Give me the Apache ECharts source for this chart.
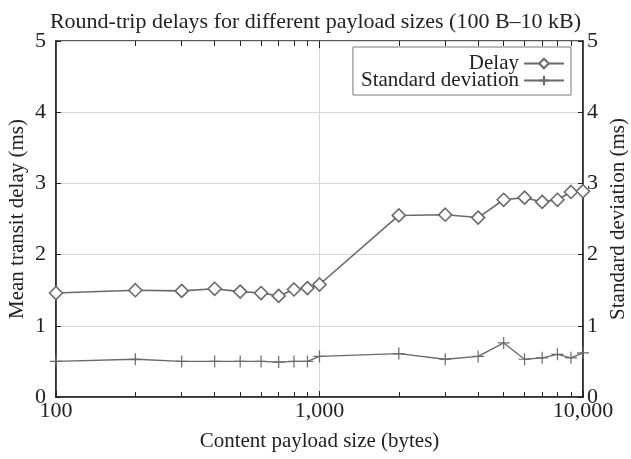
<!DOCTYPE html>
<html><head><meta charset="utf-8">
<script src="https://cdn.jsdelivr.net/npm/echarts@6/dist/echarts.min.js"></script>
<style>html,body{margin:0;padding:0;background:#fff}#c{width:631px;height:459px}</style>
</head><body><div id="c"></div>
<script>
var sizes = [100,200,300,400,500,600,700,800,900,1000,2000,3000,4000,5000,6000,7000,8000,9000,10000];
var delay = [1.46,1.50,1.49,1.52,1.48,1.46,1.42,1.51,1.53,1.58,2.55,2.56,2.52,2.77,2.80,2.74,2.77,2.88,2.89];
var stddev = [0.50,0.53,0.50,0.50,0.50,0.50,0.49,0.50,0.50,0.57,0.61,0.53,0.57,0.76,0.53,0.55,0.60,0.55,0.62];
var minorTicks = [200,300,400,500,600,700,800,900,2000,3000,4000,5000,6000,7000,8000,9000];
var yTicks = [0,1,2,3,4,5];

var FONT = 'Liberation Serif';
var C = '#6a6a6a';
function fmt(v){ return String(v).replace(/\B(?=(\d{3})+(?!\d))/g, ','); }

var tickLines = [];
minorTicks.forEach(function(v){
  tickLines.push([{coord:[v,0]},{coord:[v,0.07]}]);
  tickLines.push([{coord:[v,5]},{coord:[v,4.93]}]);
});
tickLines.push([{coord:[1000,5]},{coord:[1000,4.9]}]);

var chart = echarts.init(document.getElementById('c'), null, {renderer:'canvas'});
chart.setOption({
  animation:false,
  textStyle:{fontFamily:FONT, color:'#222'},
  title:{text:'Round-trip delays for different payload sizes (100 B\u201310 kB)', left:'center', top:6,
    textStyle:{fontFamily:FONT, fontSize:22, fontWeight:'normal', color:'#222'}},
  grid:{left:56, right:48, top:41, bottom:62, show:true, borderColor:'#222', borderWidth:1.5, outerBoundsMode:'none', containLabel:false},
  legend:{orient:'vertical', right:60, top:47, align:'right', itemGap:-4, itemWidth:40, itemHeight:12,
    padding:[6,6,4,8], borderColor:'#777', borderWidth:1,
    textStyle:{fontFamily:FONT, fontSize:21, color:'#222'},
    data:['Delay','Standard deviation']},
  xAxis:{type:'log', logBase:10, min:100, max:10000,
    name:'Content payload size (bytes)', nameLocation:'middle', nameGap:34, nameMoveOverlap:false,
    nameTextStyle:{fontFamily:FONT, fontSize:21, color:'#222'},
    axisLine:{lineStyle:{color:'#222', width:1.5}},
    axisTick:{inside:true, length:6, lineStyle:{color:'#222'}},
    axisLabel:{fontFamily:FONT, fontSize:22, color:'#222', margin:3, formatter:fmt},
    splitLine:{show:true, lineStyle:{color:'#d8d8d8', width:1}}},
  yAxis:[{type:'value', min:0, max:5, interval:1, position:'left',
    name:'Mean transit delay (ms)', nameLocation:'middle', nameGap:28, nameMoveOverlap:false,
    nameTextStyle:{fontFamily:FONT, fontSize:21, color:'#222'},
    axisLine:{show:true, lineStyle:{color:'#222', width:1.5}},
    axisTick:{show:true, inside:true, length:5, lineStyle:{color:'#222'}},
    axisLabel:{fontFamily:FONT, fontSize:22, color:'#222', margin:10},
    splitLine:{show:true, lineStyle:{color:'#d8d8d8', width:1}}},
   {type:'value', min:0, max:5, interval:1, position:'right',
    name:'Standard deviation (ms)', nameLocation:'middle', nameGap:25, nameMoveOverlap:false,
    nameTextStyle:{fontFamily:FONT, fontSize:21, color:'#222'},
    axisLine:{show:true, lineStyle:{color:'#222', width:1.5}},
    axisTick:{show:true, inside:true, length:5, lineStyle:{color:'#222'}},
    axisLabel:{fontFamily:FONT, fontSize:22, color:'#222', margin:4},
    splitLine:{show:false}}],
  series:[
    {name:'Delay', type:'line', yAxisIndex:0, data:sizes.map(function(s,i){return [s,delay[i]];}),
     symbol:'diamond', symbolSize:13, showAllSymbol:true, clip:false,
     lineStyle:{color:C, width:1.6}, itemStyle:{color:'#fff', borderColor:C, borderWidth:1.6}, z:3},
    {name:'Standard deviation', type:'line', yAxisIndex:1, data:sizes.map(function(s,i){return [s,stddev[i]];}),
     symbol:'path://M5,0L5,10M0,5L10,5', symbolSize:12, showAllSymbol:true,
     lineStyle:{color:C, width:1.3}, itemStyle:{color:C, borderColor:C, borderWidth:1.2}, z:2},
    {name:'ticks', type:'line', data:[], silent:true,
     markLine:{silent:true, symbol:['none','none'], label:{show:false}, animation:false,
       lineStyle:{color:'#222', width:1, type:'solid'}, data:tickLines}}
  ]
});
</script></body></html>
